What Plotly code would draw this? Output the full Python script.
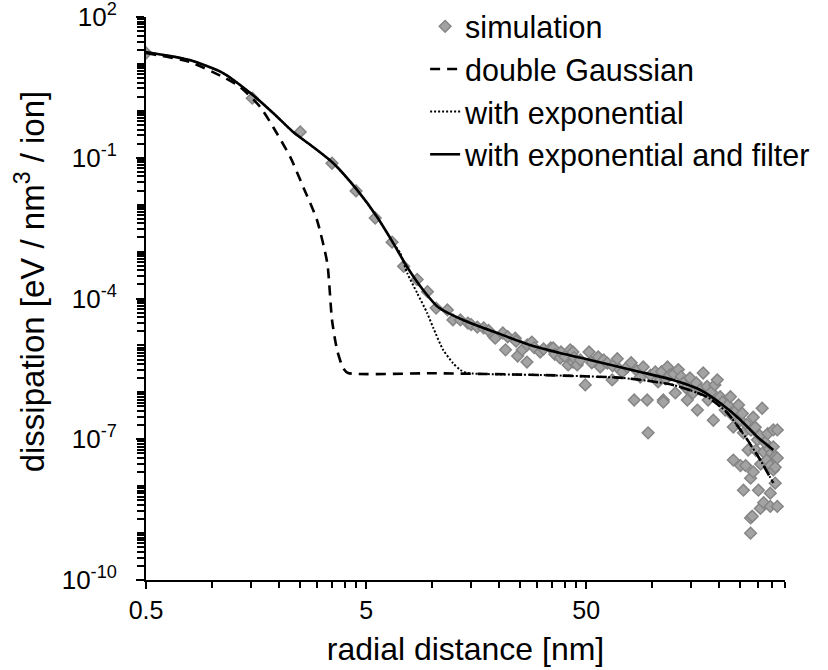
import plotly.graph_objects as go

# ---------------- data ----------------
sim_x = [0.5, 1.52, 2.51, 3.5, 4.5, 5.5, 6.56, 7.4, 8.53, 9.5, 10.4, 11.7, 12.4, 13.4,
         14.5, 15, 16, 17.1, 18, 19, 19.3, 20.9, 21.5, 22, 23.8, 24, 24.4, 25.6, 26.9,
         27, 28.3, 29, 30.9, 32, 34.5, 35.4, 36, 38.1, 38.4, 40, 41.4, 42.3, 43.5, 43.6,
         44, 45.5, 47, 49.5, 51.5, 53, 56.7, 57.9, 60, 62.3, 65.6, 66, 69.2, 71, 73,
         76.8, 80, 82.6, 85, 88, 90.8, 94.6, 95.5, 98, 103, 106, 110, 112, 112, 115,
         117, 120, 125, 127, 131, 135, 138, 142, 144, 148, 153, 158, 160, 165, 170, 177,
         179, 185, 189, 192, 197, 203, 208, 214, 220, 226, 230, 233, 233, 241, 246, 251,
         251, 256, 259, 259, 265, 268, 272, 279, 279, 279, 280, 284, 287, 287, 293, 295,
         300, 303, 307, 309, 310, 315, 320, 320, 325, 330, 334, 340, 343, 343, 343, 348,
         354, 354, 354, 361, 361, 361, 369, 369, 369]
sim_y = [17.1, 1.86, 0.356, 0.0764, 0.0196, 5.2e-3, 1.59e-3, 4.84e-4, 2.54e-4, 1.4e-4, 6.25e-5,
         5.7e-5, 3.49e-5, 3.49e-5, 2.99e-5, 2.78e-5, 2.46e-5, 2.36e-5, 2.08e-5, 1.57e-5, 1.43e-5,
         1.84e-5, 8.05e-6, 1.53e-5, 1.43e-5, 1.23e-5, 5.95e-6, 8.05e-6, 4.42e-6, 1.03e-5, 1.18e-5,
         9.0e-6, 7.25e-6, 8.4e-6, 8.8e-6, 8.8e-6, 6.45e-6, 5.38e-6, 7.25e-6, 5.82e-6, 3.84e-6,
         8.05e-6, 7.25e-6, 4.42e-6, 5.51e-6, 3.84e-6, 4.89e-6, 1.44e-6, 7.25e-6, 4.27e-6,
         5.66e-6, 3.47e-6, 4.89e-6, 4.2e-6, 1.84e-6, 3.66e-6, 5.2e-6, 3.05e-6, 2.72e-6,
         3.47e-6, 4.27e-6, 6.86e-7, 2.9e-6, 2.12e-6, 3.47e-6, 6.86e-7, 1.37e-7, 2.31e-6,
         2.72e-6, 1.67e-6, 2.75e-6, 6.86e-7, 6.2e-7, 1.93e-6, 3.47e-6, 2.34e-6, 2.46e-6, 9.7e-7,
         3.05e-6, 2.16e-6, 1.58e-6, 1.25e-6, 6.86e-7, 2.02e-6, 9.7e-7, 1.58e-6, 4.19e-7, 1.14e-6,
         2.58e-6, 1.33e-6, 6.86e-7, 1.02e-6, 2.54e-7, 1.44e-6, 1.85e-6, 8.05e-7, 6.2e-7, 4.19e-7,
         5.37e-7, 8.05e-7, 3.3e-7, 1.82e-7, 3.6e-8, 4.19e-7, 5.37e-7, 2.54e-7, 2.74e-8, 3.55e-7,
         1.37e-7, 8.2e-9, 2.74e-8, 2.05e-7, 5.9e-8, 2.1e-9, 9.95e-10, 1.48e-8, 1.56e-7, 2.28e-9,
         2.94e-7, 2.01e-8, 1.8e-7, 5.8e-8, 9.7e-8, 8.2e-9, 1.2e-7, 3.35e-9, 2.95e-8, 4.58e-7,
         4.45e-9, 5.35e-8, 8.5e-8, 3.6e-8, 1.32e-7, 6.2e-8, 7.1e-9, 3.7e-9, 2.74e-8, 5.1e-8, 1.58e-7,
         6.9e-8, 2.22e-8, 4.25e-8, 1.16e-8, 2.53e-8, 3.7e-9, 1.58e-7, 4.0e-8]

dg_x = [0.5, 0.79, 1.12, 1.34, 1.65, 1.89, 2.26, 2.59, 2.99, 3.33, 3.5, 3.69, 3.93, 4.14,
        10, 30.9, 73.6, 124, 177, 219, 270, 309, 354]
dg_y = [17.1, 11.0, 5.26, 3.22, 1.21, 0.453, 0.104, 0.0238, 4.71e-3, 5.7e-4, 3.48e-5,
        8e-6, 3.3e-6, 2.59e-6, 2.55e-6, 2.34e-6, 2.02e-6, 1.44e-6, 7.96e-7, 3.63e-7,
        9.7e-8, 3.6e-8, 1.17e-8]

ex_x = [0.5, 0.79, 1.12, 1.49, 1.89, 2.33, 2.87, 3.54, 4.55, 5.61, 6.64, 7.14, 7.68, 8.53,
        9.47, 10.1, 11.2, 12.4, 13.4, 14.4, 30.9, 73.6, 124, 177, 219, 270, 309, 354]
ex_y = [17.9, 12.1, 6.4, 2.4, 0.9, 0.354, 0.17, 0.0773, 0.0206, 5.46e-3, 1.52e-3, 9.3e-4,
        3.5e-4, 1.31e-4, 4.9e-5, 2.35e-5, 8e-6, 4.2e-6, 3e-6, 2.59e-6, 2.34e-6, 2.02e-6,
        1.44e-6, 7.96e-7, 3.63e-7, 9.7e-8, 3.6e-8, 1.17e-8]

ef_x = [0.5, 0.79, 1.12, 1.49, 1.89, 2.33, 2.87, 3.54, 4.55, 5.61, 6.64, 7.68, 9.08, 10.6,
        13.8, 19.7, 27.8, 38, 52, 88, 124, 165, 203, 251, 300, 354]
ef_y = [17.9, 12.1, 6.4, 2.4, 0.9, 0.354, 0.17, 0.0773, 0.0206, 5.46e-3, 1.52e-3, 4.7e-4,
        1.52e-4, 6.6e-5, 3.48e-5, 1.84e-5, 1.02e-5, 6.9e-6, 4.9e-6, 2.72e-6, 1.83e-6, 1.12e-6,
        5.9e-7, 2.58e-7, 1.12e-7, 5.9e-8]

x_ticks = [0.5, 5, 50]
x_ticktext = ["0.5", "5", "50"]
y_ticks = [1e2, 1e-1, 1e-4, 1e-7, 1e-10]
y_ticktext = ["10<sup>2</sup>", "10<sup>-1</sup>", "10<sup>-4</sup>",
              "10<sup>-7</sup>", "10<sup>-10</sup>"]

x_minor = [0.5 * k * 10 ** n for n in range(0, 3) for k in range(1, 11) if 0.5 * k * 10 ** n <= 400]
y_minor = [k * 10.0 ** n for n in range(-10, 2) for k in range(1, 10)]

FONT = "Liberation Sans, Arial, sans-serif"

fig = go.Figure()
fig.add_trace(go.Scatter(
    x=sim_x, y=sim_y, mode="markers", name="simulation",
    marker=dict(symbol="diamond", size=9, color="#a3a3a3",
                line=dict(color="#858585", width=1.5))))
fig.add_trace(go.Scatter(
    x=dg_x, y=dg_y, mode="lines", name="double Gaussian",
    line=dict(color="black", width=2.6, dash="10px,7px", shape="spline", smoothing=0.6)))
fig.add_trace(go.Scatter(
    x=ex_x, y=ex_y, mode="lines", name="with exponential",
    line=dict(color="black", width=2, dash="2px,2px", shape="spline", smoothing=0.6)))
fig.add_trace(go.Scatter(
    x=ef_x, y=ef_y, mode="lines", name="with exponential and filter",
    line=dict(color="black", width=2.6, shape="spline", smoothing=0.6)))

fig.update_layout(
    width=828, height=670,
    margin=dict(l=146, r=43, t=17, b=90, autoexpand=False),
    paper_bgcolor="white", plot_bgcolor="white",
    font=dict(family=FONT, color="black", size=25),
    showlegend=True,
    legend=dict(x=0.4368, y=1.0302, xanchor="left", yanchor="top", font=dict(size=30.5),
                bgcolor="rgba(0,0,0,0)", traceorder="normal", itemwidth=30),
    xaxis=dict(type="log", range=[-0.30103, 2.60206], automargin=False,
               tickvals=x_ticks, ticktext=x_ticktext,
               ticks="outside", ticklen=7, tickwidth=1.5, tickcolor="black",
               showline=True, linecolor="black", linewidth=1.8,
               showgrid=False, zeroline=False,
               tickfont=dict(size=25),
               minor=dict(tickvals=x_minor, ticks="outside", ticklen=6,
                          tickwidth=1.5, tickcolor="black", showgrid=False),
               title=dict(text="radial distance [nm]", font=dict(size=32))),
    yaxis=dict(type="log", range=[-10.0002, 2.0002], automargin=False,
               tickvals=y_ticks, ticktext=y_ticktext,
               ticks="outside", ticklen=8, tickwidth=1.5, tickcolor="black",
               showline=True, linecolor="black", linewidth=1.8,
               showgrid=False, zeroline=False, ticklabeloverflow="allow",
               tickfont=dict(size=26), ticklabelstandoff=14,
               minor=dict(tickvals=y_minor, ticks="outside", ticklen=7,
                          tickwidth=1.5, tickcolor="black", showgrid=False)),
    annotations=[dict(text="dissipation [eV / nm<sup>3</sup> / ion]", textangle=-90,
                      xref="paper", yref="paper", x=-0.182, y=0.53,
                      xanchor="center", yanchor="middle", showarrow=False,
                      font=dict(size=33))],
)

fig.write_html("out.html", config={"displayModeBar": False},
               post_script="document.body.style.margin='0px';")
